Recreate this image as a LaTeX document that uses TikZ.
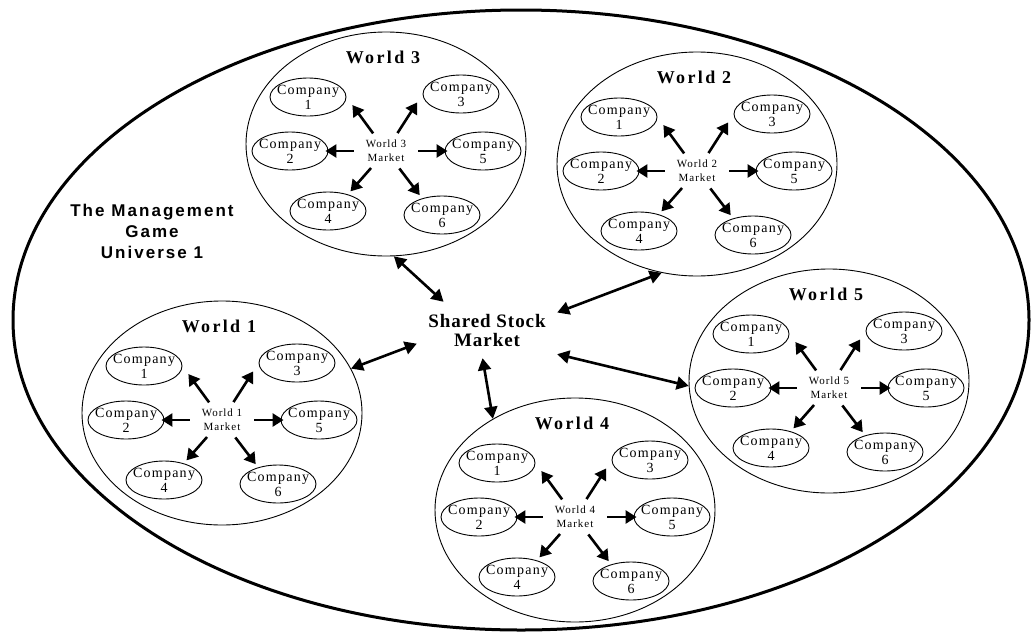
\documentclass[tikz,border=0pt]{standalone}
\usepackage{fontspec}
\setmainfont{Liberation Serif}
\newfontfamily\compfont[LetterSpace=9]{Liberation Serif}
\newfontfamily\worldfont[LetterSpace=13]{Liberation Serif}
\newfontfamily\sharedfont[LetterSpace=5]{Liberation Serif}
\newfontfamily\titlefont[LetterSpace=12]{Liberation Sans}
\usetikzlibrary{shapes,arrows.meta,positioning}

\tikzset{
  world/.style={draw, ellipse, line width=0.9pt, minimum width=280pt, minimum height=224pt, inner sep=0pt},
  company/.style={draw, ellipse, line width=0.9pt, minimum width=76pt, minimum height=38pt, inner xsep=-5pt, inner ysep=0pt, align=center, font=\compfont\fontsize{14}{15}\selectfont},
  market/.style={ellipse, minimum width=64pt, minimum height=38pt, inner sep=0pt, align=center, font=\compfont\fontsize{11}{14}\selectfont},
  heading/.style={font=\worldfont\bfseries\fontsize{18}{20}\selectfont},
  inarrow/.style={-{Triangle[length=11pt,width=13pt]}, line width=2.6pt},
  link/.style={{Triangle[length=12pt,width=13pt]}-{Triangle[length=12pt,width=13pt]}, line width=2.6pt},
}

\begin{document}
\begin{tikzpicture}[x=1pt,y=-1pt]
\useasboundingbox (0,0) rectangle (1032,632);

% Universe
\draw[line width=3pt] (521,320) ellipse [x radius=508pt, y radius=310pt];
\node[align=center, font=\titlefont\bfseries\fontsize{17}{21}\selectfont] (title) at (152,231) {The Management\\Game\\Universe 1};

% Worlds
\foreach \n/\wx/\wy in {1/222/413, 2/697/164, 3/386/144, 4/575/510, 5/829/381} {
  \begin{scope}[shift={(\wx,\wy)}]
    \node[world] (w\n) at (0,0) {};
    \node[heading] (h\n) at (-3,-87) {World \n};
    \node[market] (m\n) at (0,7) {World \n\\Market};
    \foreach \k/\cx/\cy in {1/-78/-47, 2/-96/7, 3/75/-50, 4/-58/67, 5/97/7, 6/56/71}
      \node[company] (c\n-\k) at (\cx,\cy) {Company\\\k};
    \draw[inarrow, shorten >=10pt] (m\n) -- (c\n-1.east);
    \draw[inarrow, shorten >=10pt] (m\n) -- (c\n-3.west);
    \draw[inarrow, shorten >=-3pt] (m\n) -- (c\n-2.east);
    \draw[inarrow, shorten >=-3pt] (m\n) -- (c\n-5.west);
    \draw[inarrow, shorten >=4pt] (m\n) -- (c\n-4.40);
    \draw[inarrow, shorten >=4pt] (m\n) -- (c\n-6.140);
  \end{scope}
}

% Shared market
\node[minimum width=140pt, minimum height=56pt, inner sep=0pt, align=center, font=\sharedfont\bfseries\fontsize{19}{19}\selectfont] (s) at (487,330) {Shared Stock\\Market};

\draw[link] (s.147) -- (w3.-86);
\draw[link] (s.14) -- (w2.-108);
\draw[link] (s.191) -- (w1.19);
\draw[link] (s.261) -- (w4.132);
\draw[link] (s.-19) -- (w5.182);
\end{tikzpicture}
\end{document}
